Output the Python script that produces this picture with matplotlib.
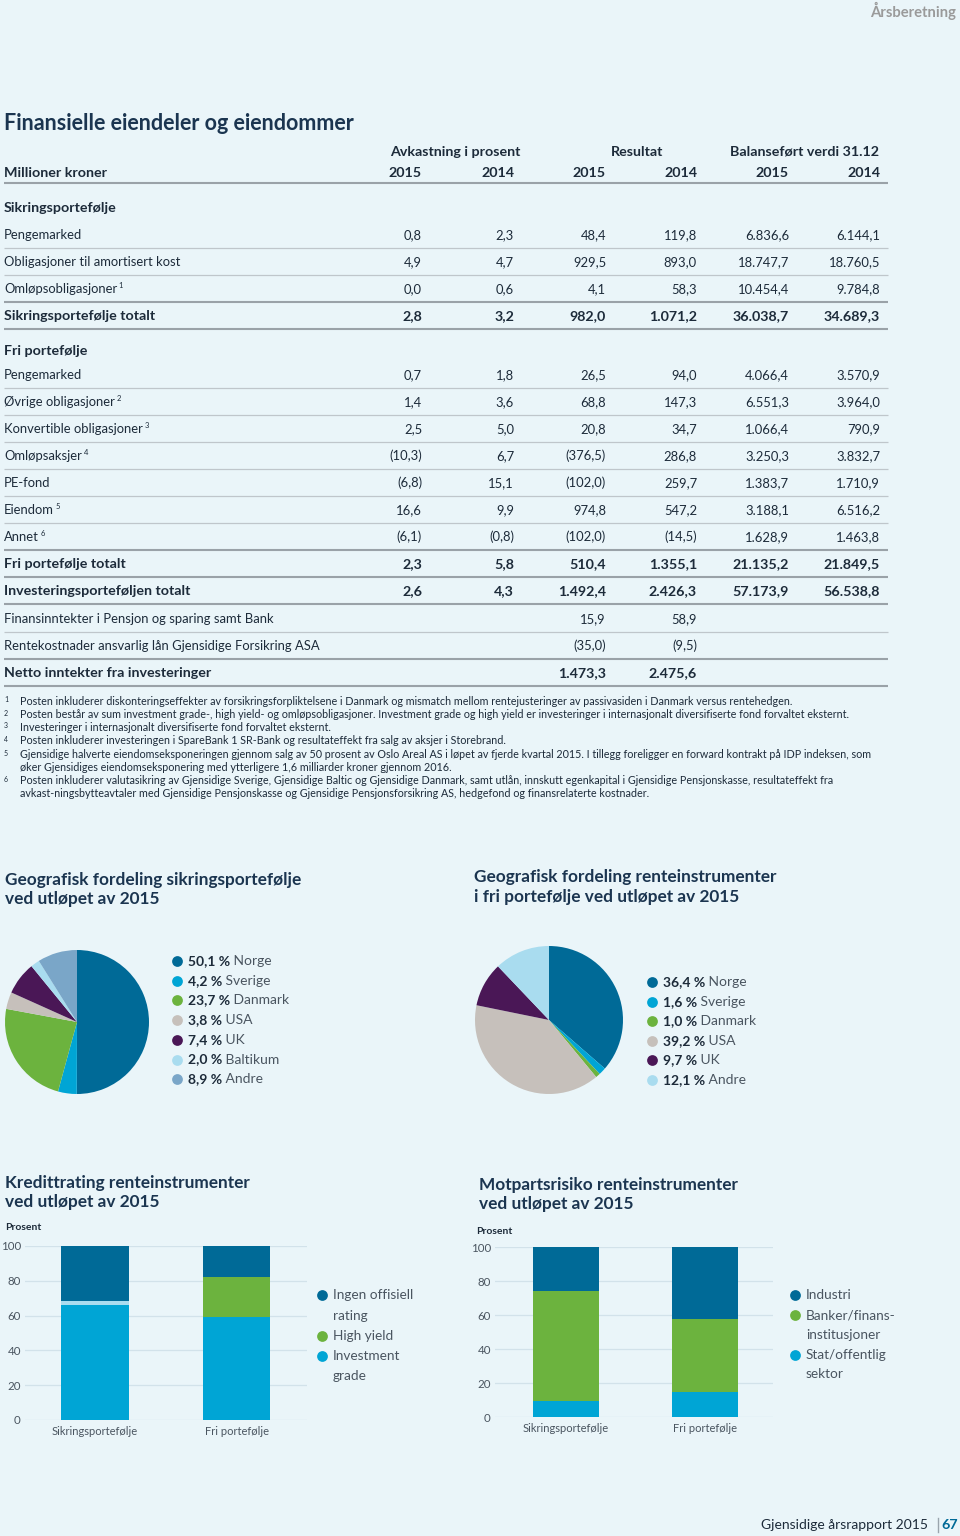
import matplotlib
matplotlib.use("Agg")
import matplotlib.pyplot as plt

plt.rcParams['font.family'] = ['Lato', 'DejaVu Sans']

# ---------------- DATA ----------------
col_groups = ["Avkastning i prosent", "Resultat", "Balanseført verdi 31.12"]
col_years = ["2015", "2014", "2015", "2014", "2015", "2014"]

row_labels = [
    "Sikringsportefølje",
    "Pengemarked", "Obligasjoner til amortisert kost", "Omløpsobligasjoner",
    "Sikringsportefølje totalt",
    "Fri portefølje",
    "Pengemarked", "Øvrige obligasjoner", "Konvertible obligasjoner", "Omløpsaksjer",
    "PE-fond", "Eiendom", "Annet",
    "Fri portefølje totalt", "Investeringsporteføljen totalt",
    "Finansinntekter i Pensjon og sparing samt Bank",
    "Rentekostnader ansvarlig lån Gjensidige Forsikring ASA",
    "Netto inntekter fra investeringer",
]
row_notes = ["", "", "", "1", "", "", "", "2", "3", "4", "", "5", "6", "", "", "", "", ""]
row_bold = [True, False, False, False, True, True, False, False, False, False,
            False, False, False, True, True, False, False, True]

avk_2015 = ["", "0,8", "4,9", "0,0", "2,8", "", "0,7", "1,4", "2,5", "(10,3)", "(6,8)", "16,6", "(6,1)", "2,3", "2,6", "", "", ""]
avk_2014 = ["", "2,3", "4,7", "0,6", "3,2", "", "1,8", "3,6", "5,0", "6,7", "15,1", "9,9", "(0,8)", "5,8", "4,3", "", "", ""]
res_2015 = ["", "48,4", "929,5", "4,1", "982,0", "", "26,5", "68,8", "20,8", "(376,5)", "(102,0)", "974,8", "(102,0)", "510,4", "1.492,4", "15,9", "(35,0)", "1.473,3"]
res_2014 = ["", "119,8", "893,0", "58,3", "1.071,2", "", "94,0", "147,3", "34,7", "286,8", "259,7", "547,2", "(14,5)", "1.355,1", "2.426,3", "58,9", "(9,5)", "2.475,6"]
bal_2015 = ["", "6.836,6", "18.747,7", "10.454,4", "36.038,7", "", "4.066,4", "6.551,3", "1.066,4", "3.250,3", "1.383,7", "3.188,1", "1.628,9", "21.135,2", "57.173,9", "", "", ""]
bal_2014 = ["", "6.144,1", "18.760,5", "9.784,8", "34.689,3", "", "3.570,9", "3.964,0", "790,9", "3.832,7", "1.710,9", "6.516,2", "1.463,8", "21.849,5", "56.538,8", "", "", ""]

footnotes = [
    ("1", "Posten inkluderer diskonteringseffekter av forsikringsforpliktelsene i Danmark og mismatch mellom rentejusteringer av passivasiden i Danmark versus rentehedgen."),
    ("2", "Posten består av sum investment grade-, high yield- og omløpsobligasjoner. Investment grade og high yield er investeringer i internasjonalt diversifiserte fond forvaltet eksternt."),
    ("3", "Investeringer i internasjonalt diversifiserte fond forvaltet eksternt."),
    ("4", "Posten inkluderer investeringen i SpareBank 1 SR-Bank og resultateffekt fra salg av aksjer i Storebrand."),
    ("5", "Gjensidige halverte eiendomseksponeringen gjennom salg av 50 prosent av Oslo Areal AS i løpet av fjerde kvartal 2015. I tillegg foreligger en forward kontrakt på IDP indeksen, som\nøker Gjensidiges eiendomseksponering med ytterligere 1,6 milliarder kroner gjennom 2016."),
    ("6", "Posten inkluderer valutasikring av Gjensidige Sverige, Gjensidige Baltic og Gjensidige Danmark, samt utlån, innskutt egenkapital i Gjensidige Pensjonskasse, resultateffekt fra\navkast-ningsbytteavtaler med Gjensidige Pensjonskasse og Gjensidige Pensjonsforsikring AS, hedgefond og finansrelaterte kostnader."),
]

pie1_labels = ["Norge", "Sverige", "Danmark", "USA", "UK", "Baltikum", "Andre"]
pie1_values = [50.1, 4.2, 23.7, 3.8, 7.4, 2.0, 8.9]
pie1_pct = ["50,1 %", "4,2 %", "23,7 %", "3,8 %", "7,4 %", "2,0 %", "8,9 %"]

pie2_labels = ["Norge", "Sverige", "Danmark", "USA", "UK", "Andre"]
pie2_values = [36.4, 1.6, 1.0, 39.2, 9.7, 12.1]
pie2_pct = ["36,4 %", "1,6 %", "1,0 %", "39,2 %", "9,7 %", "12,1 %"]

bar_cats = ["Sikringsportefølje", "Fri portefølje"]
credit_ig = [66.0, 59.0]
credit_other = [2.3, 0.0]
credit_hy = [0.0, 23.2]
credit_none = [31.7, 17.8]

cp_stat = [9.6, 15.0]
cp_bank = [64.4, 42.6]
cp_ind = [26.0, 42.4]

yticks = [0, 20, 40, 60, 80, 100]

# ---------------- STYLE ----------------
W, H = 960, 1536
BG = "#eaf5f9"
TXT = "#1d2b3a"
HEAD = "#1b3550"
GRAY = "#4a5560"
C_NORGE = "#006a97"
C_SVER = "#00a5d5"
C_DK = "#6cb33e"
C_USA = "#c6c0bb"
C_UK = "#4a1756"
C_BALT = "#a9dcef"
C_ANDRE = "#7aa6c8"

REG = 9.4
BOLD = 10.3

fig = plt.figure(figsize=(W / 100, H / 100), dpi=100, facecolor=BG)
page = fig.add_axes([0, 0, 1, 1])
page.set_xlim(0, W)
page.set_ylim(H, 0)
page.axis("off")
page.set_facecolor(BG)


def T(x, y, s, size=9.5, bold=False, ha="left", va="center", color=TXT, **kw):
    return page.text(x, y, s, fontsize=size, fontweight="bold" if bold else "normal",
                     ha=ha, va=va, color=color, **kw)


def px_axes(x0, y0, w, h):
    return fig.add_axes([x0 / W, 1 - (y0 + h) / H, w / W, h / H])


# header / footer
T(956, 11, "Årsberetning", size=10.6, bold=True, ha="right", color="#9a9a9a")
T(928, 1525, "Gjensidige årsrapport 2015", size=10, ha="right", color=TXT)
page.plot([938, 938], [1518, 1532], color="#9aa5ad", lw=1)
T(958, 1525, "67", size=10.3, bold=True, ha="right", color=C_NORGE)

# title
T(4, 123, "Finansielle eiendeler og eiendommer", size=15.5, bold=True, color=HEAD)

# ---------------- TABLE ----------------
col_right = [422, 514, 606, 697, 789, 880]
group_centers = [455, 637, 805]
for gx, g in zip(group_centers, col_groups):
    T(gx, 152, g, size=BOLD, bold=True, ha="center")
T(4, 173, "Millioner kroner", size=BOLD, bold=True)
for xr, yr in zip(col_right, col_years):
    T(xr, 173, yr, size=BOLD, bold=True, ha="right")

row_y = [208, 235, 262, 289, 316, 351, 375, 402, 429, 456, 483, 510, 537, 564, 591, 619, 646, 673]
cols = [avk_2015, avk_2014, res_2015, res_2014, bal_2015, bal_2014]
for i, (lab, y) in enumerate(zip(row_labels, row_y)):
    b = row_bold[i]
    sz = BOLD if b else REG
    t = T(4, y, lab, size=sz, bold=b)
    if row_notes[i]:
        page.annotate(" " + row_notes[i], xycoords=t, xy=(1, 0.78), va="center",
                      ha="left", fontsize=5.5, color=TXT)
    for xr, col in zip(col_right, cols):
        if col[i]:
            T(xr, y, col[i], size=sz, bold=b, ha="right")

thick_lines = [183, 302, 329, 550, 577, 604, 659, 686]
thin_lines = [248, 275, 388, 415, 442, 469, 496, 523, 632]
for y in thick_lines:
    page.plot([4, 888], [y, y], color="#9aa2a8", lw=1.5, solid_capstyle="butt")
for y in thin_lines:
    page.plot([4, 888], [y, y], color="#bfc6cb", lw=0.9, solid_capstyle="butt")

# footnotes
fy = [702, 715, 728, 741, 755, 781]
for (n, s), y in zip(footnotes, fy):
    T(4, y - 2, n, size=5, va="center")
    page.text(20, y - 6, s, fontsize=7.75, ha="left", va="top", color=TXT,
              linespacing=1.2)

# ---------------- PIES ----------------
TS = 12.4
T(5, 880, "Geografisk fordeling sikringsportefølje", size=TS, bold=True, color=HEAD)
T(5, 899, "ved utløpet av 2015", size=TS, bold=True, color=HEAD)
T(474, 877, "Geografisk fordeling renteinstrumenter", size=TS, bold=True, color=HEAD)
T(474, 897, "i fri portefølje ved utløpet av 2015", size=TS, bold=True, color=HEAD)

pie1_colors = [C_NORGE, C_SVER, C_DK, C_USA, C_UK, C_BALT, C_ANDRE]
pie2_colors = [C_NORGE, C_SVER, C_DK, C_USA, C_UK, C_BALT]

ax1 = px_axes(5, 950, 144, 144)
ax1.pie(pie1_values, colors=pie1_colors, startangle=90, counterclock=False,
        wedgeprops=dict(linewidth=0))
ax1.set_xlim(-1, 1); ax1.set_ylim(-1, 1); ax1.set_aspect("equal"); ax1.axis("off")

ax2 = px_axes(475, 946, 148, 148)
ax2.pie(pie2_values, colors=pie2_colors, startangle=90, counterclock=False,
        wedgeprops=dict(linewidth=0))
ax2.set_xlim(-1, 1); ax2.set_ylim(-1, 1); ax2.set_aspect("equal"); ax2.axis("off")


def pie_legend(x, y0, dy, pcts, labels, colors):
    for k, (p, l, c) in enumerate(zip(pcts, labels, colors)):
        y = y0 + k * dy
        page.scatter([x], [y], s=60, color=c, linewidths=0)
        t = page.text(x + 11, y, p, fontsize=10, fontweight="bold", color=TXT,
                      ha="left", va="center")
        page.annotate(" " + l, xycoords=t, xy=(1, 0.5), va="center", ha="left",
                      fontsize=10, color=GRAY)


pie_legend(177, 961, 19.7, pie1_pct, pie1_labels, pie1_colors)
pie_legend(652, 982, 19.6, pie2_pct, pie2_labels, pie2_colors)

# ---------------- BARS ----------------
T(5, 1183, "Kredittrating renteinstrumenter", size=TS, bold=True, color=HEAD)
T(5, 1202, "ved utløpet av 2015", size=TS, bold=True, color=HEAD)
T(479, 1185, "Motpartsrisiko renteinstrumenter", size=TS, bold=True, color=HEAD)
T(479, 1204, "ved utløpet av 2015", size=TS, bold=True, color=HEAD)
T(5, 1228, "Prosent", size=7.5, bold=True)
T(476, 1231, "Prosent", size=7.5, bold=True)


def style_bar_axes(ax, xlim):
    ax.set_facecolor("none")
    ax.set_xlim(*xlim)
    ax.set_ylim(0, 100)
    ax.set_yticks(yticks)
    ax.set_yticklabels([str(v) for v in yticks], fontsize=8.3, color=GRAY)
    ax.set_xticks([0, 1])
    ax.set_xticklabels(bar_cats, fontsize=8, color=GRAY)
    for s in ax.spines.values():
        s.set_visible(False)
    ax.tick_params(length=0, pad=4)
    ax.tick_params(axis="y", pad=3)
    ax.grid(axis="y", color="#d2e2ea", lw=0.9)
    ax.set_axisbelow(True)


xpos = [0, 1]
axb1 = px_axes(25, 1246, 282, 174)
w1 = 0.48
axb1.bar(xpos, credit_ig, width=w1, color=C_SVER, label="Investment grade")
b = list(credit_ig)
axb1.bar(xpos, credit_other, width=w1, bottom=b, color=C_BALT)
b = [a + c for a, c in zip(b, credit_other)]
axb1.bar(xpos, credit_hy, width=w1, bottom=b, color=C_DK, label="High yield")
b = [a + c for a, c in zip(b, credit_hy)]
axb1.bar(xpos, credit_none, width=w1, bottom=b, color=C_NORGE, label="Ingen offisiell rating")
style_bar_axes(axb1, (-0.495, 1.498))

axb2 = px_axes(495, 1247, 278, 170)
w2 = 0.475
axb2.bar(xpos, cp_stat, width=w2, color=C_SVER)
b = list(cp_stat)
axb2.bar(xpos, cp_bank, width=w2, bottom=b, color=C_DK)
b = [a + c for a, c in zip(b, cp_bank)]
axb2.bar(xpos, cp_ind, width=w2, bottom=b, color=C_NORGE)
style_bar_axes(axb2, (-0.511, 1.489))


def bar_legend(x, entries):
    for color, lines_y, txts in entries:
        page.scatter([x], [lines_y[0]], s=60, color=color, linewidths=0)
        for yy, tt in zip(lines_y, txts):
            T(x + 11, yy, tt, size=9.8, color=GRAY)


bar_legend(322, [
    (C_NORGE, [1295, 1316], ["Ingen offisiell", "rating"]),
    (C_DK, [1336], ["High yield"]),
    (C_SVER, [1356, 1376], ["Investment", "grade"]),
])
bar_legend(795, [
    (C_NORGE, [1295], ["Industri"]),
    (C_DK, [1315, 1335], ["Banker/finans-", "institusjoner"]),
    (C_SVER, [1355, 1374], ["Stat/offentlig", "sektor"]),
])

fig.savefig("out.png", dpi=100, facecolor=BG)
